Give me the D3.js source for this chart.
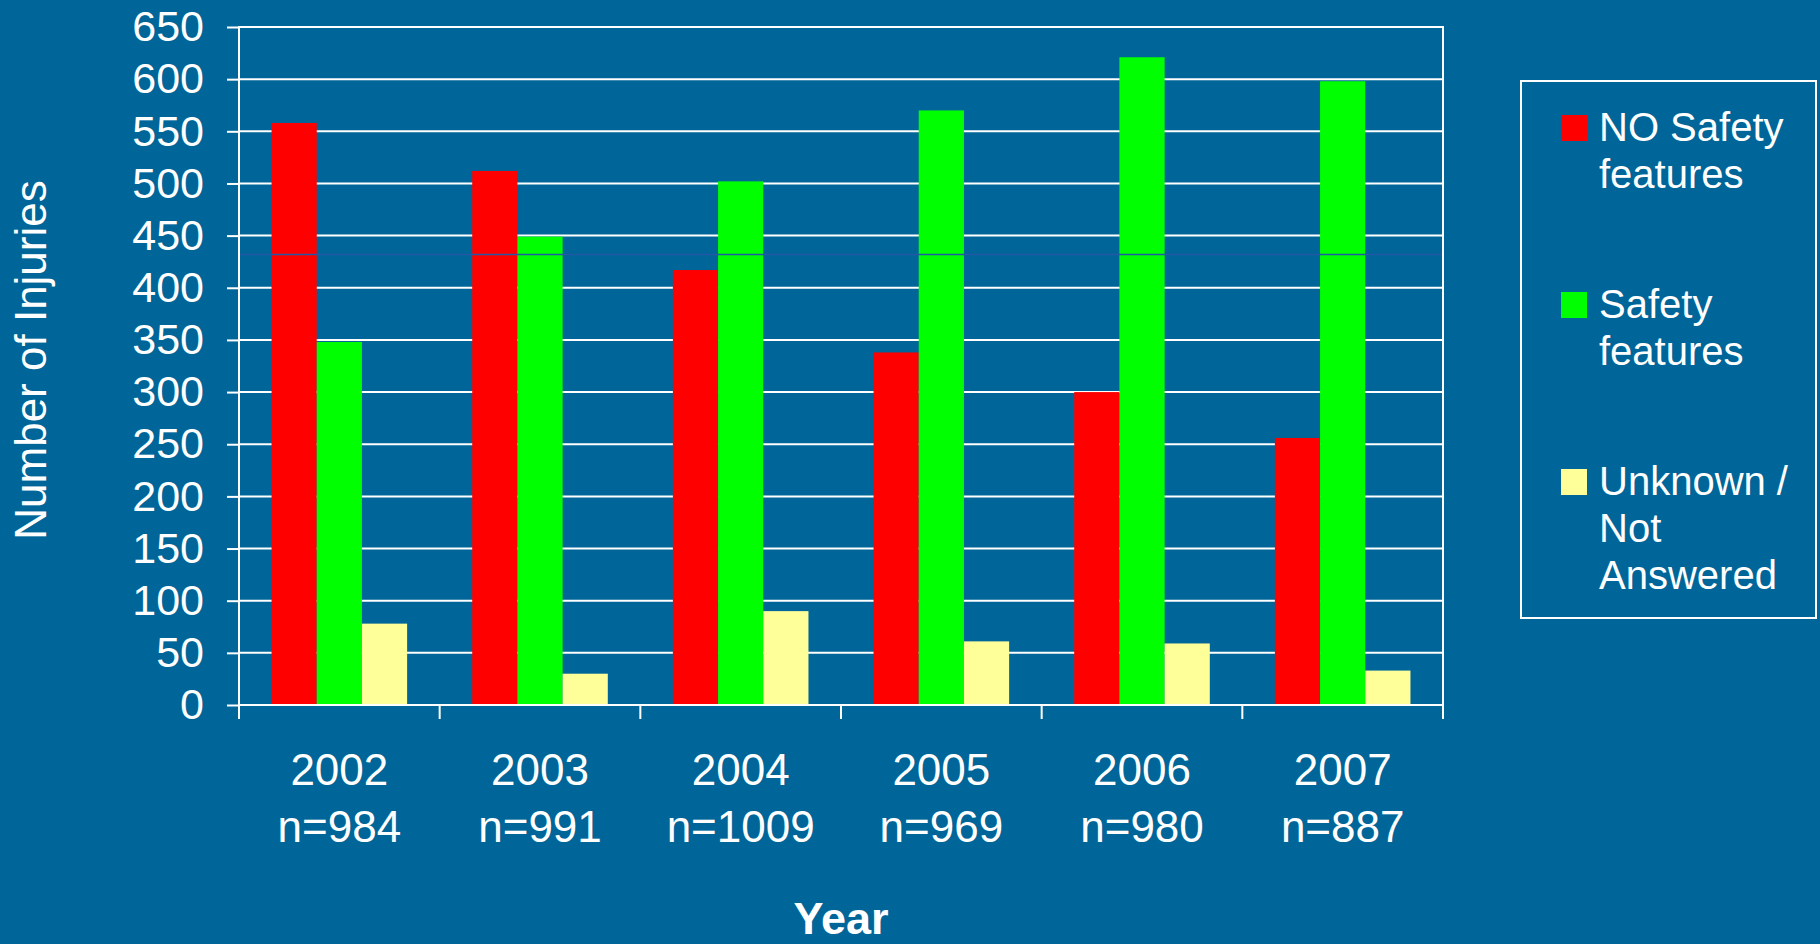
<!DOCTYPE html>
<html>
<head>
    <meta charset="utf-8">
    <title>Number of Injuries by Year</title>
    <script src="https://d3js.org/d3.v7.min.js" charset="utf-8"></script>
    <style type="text/css">
        body {
            margin: 0;
            background: #006699;
        }

        svg text {
            font-family: "Liberation Sans", Arial, sans-serif;
            fill: #fff;
        }

        .axis path {
            display: none;
        }

        .axis line,
        .grid line {
            stroke: #fff;
            stroke-width: 2px;
        }
    </style>
</head>

<body>
<script type="text/javascript">
    // data
    var years = ["2002", "2003", "2004", "2005", "2006", "2007"];
    var sampleSizes = ["n=984", "n=991", "n=1009", "n=969", "n=980", "n=887"];
    var seriesNames = ["NO Safety features", "Safety features", "Unknown / Not Answered"];
    var noSafety = [558, 512, 417, 338, 300, 256];
    var safety = [348, 449, 502, 570, 621, 598];
    var unknown = [78, 30, 90, 61, 59, 33];
    var yTicks = [0, 50, 100, 150, 200, 250, 300, 350, 400, 450, 500, 550, 600, 650];

    var colors = ["#ff0000", "#00ff00", "#ffff99"];
    var legendLines = [["NO Safety", "features"], ["Safety", "features"], ["Unknown /", "Not", "Answered"]];

    var rows = years.map(function (yr, i) {
        return { year: yr, n: sampleSizes[i], values: [noSafety[i], safety[i], unknown[i]] };
    });

    var W = 1820, H = 944;
    var margin = { top: 27, right: 377, bottom: 239, left: 239 },
        width = W - margin.left - margin.right,
        height = H - margin.top - margin.bottom;

    var svg = d3.select("body").append("svg")
        .attr("width", W)
        .attr("height", H);

    svg.append("rect")
        .attr("width", W)
        .attr("height", H)
        .attr("fill", "#006699");

    var g = svg.append("g")
        .attr("transform", "translate(" + margin.left + "," + margin.top + ")");

    var x0 = d3.scaleBand()
        .domain(years)
        .range([0, width])
        .padding(0);

    var x1 = d3.scaleBand()
        .domain(d3.range(seriesNames.length))
        .range([0, x0.bandwidth()])
        .paddingInner(0)
        .paddingOuter(0.72);

    var y = d3.scaleLinear()
        .domain([0, 650])
        .range([height, 0]);

    // gridlines
    g.append("g")
        .attr("class", "grid")
        .selectAll("line")
        .data(yTicks)
        .enter().append("line")
        .attr("x1", 0)
        .attr("x2", width)
        .attr("y1", function (d) { return y(d); })
        .attr("y2", function (d) { return y(d); });

    // bars
    var groups = g.selectAll(".year")
        .data(rows)
        .enter().append("g")
        .attr("class", "year")
        .attr("transform", function (d) { return "translate(" + x0(d.year) + ",0)"; });

    groups.selectAll("rect")
        .data(function (d) { return d.values; })
        .enter().append("rect")
        .attr("x", function (d, i) { return x1(i); })
        .attr("width", x1.bandwidth())
        .attr("y", function (d) { return y(d); })
        .attr("height", function (d) { return height - y(d); })
        .attr("fill", function (d, i) { return colors[i]; });

    // faint seam line across the bars seen in the source image
    g.append("line")
        .attr("x1", 0)
        .attr("x2", width)
        .attr("y1", y(432))
        .attr("y2", y(432))
        .attr("stroke", "#2358a6")
        .attr("stroke-width", 1.5);

    // plot border
    g.append("rect")
        .attr("width", width)
        .attr("height", height)
        .attr("fill", "none")
        .attr("stroke", "#fff")
        .attr("stroke-width", 2);

    // y axis
    var yAxis = d3.axisLeft(y)
        .tickValues(yTicks)
        .tickSize(12)
        .tickPadding(23);

    g.append("g")
        .attr("class", "y axis")
        .call(yAxis)
        .selectAll("text")
        .style("font-size", "43px")
        .attr("fill", "#fff");

    // x axis: ticks sit on the band edges
    var edges = years.map(function (d) { return x0(d); }).concat([width]);
    g.append("g")
        .attr("class", "x axis")
        .selectAll("line")
        .data(edges)
        .enter().append("line")
        .attr("x1", function (d) { return d; })
        .attr("x2", function (d) { return d; })
        .attr("y1", height)
        .attr("y2", height + 14);

    var xLabels = g.append("g")
        .selectAll("text")
        .data(rows)
        .enter().append("text")
        .attr("text-anchor", "middle")
        .style("font-size", "44px")
        .attr("transform", function (d) {
            return "translate(" + (x0(d.year) + x0.bandwidth() / 2) + "," + (height + 80) + ")";
        });

    xLabels.append("tspan")
        .attr("x", 0)
        .attr("y", 0)
        .text(function (d) { return d.year; });

    xLabels.append("tspan")
        .attr("x", 0)
        .attr("y", 57)
        .text(function (d) { return d.n; });

    // axis titles
    svg.append("text")
        .attr("text-anchor", "middle")
        .attr("transform", "translate(46,360) rotate(-90)")
        .style("font-size", "44px")
        .text("Number of Injuries");

    svg.append("text")
        .attr("text-anchor", "middle")
        .attr("x", margin.left + width / 2)
        .attr("y", 934)
        .style("font-size", "45px")
        .style("font-weight", "bold")
        .text("Year");

    // legend
    var legend = svg.append("g")
        .attr("transform", "translate(1521,81)");

    legend.append("rect")
        .attr("width", 295)
        .attr("height", 537)
        .attr("fill", "none")
        .attr("stroke", "#fff")
        .attr("stroke-width", 2);

    var items = legend.selectAll(".item")
        .data(seriesNames)
        .enter().append("g")
        .attr("class", "item")
        .attr("transform", function (d, i) { return "translate(40," + (34 + i * 177) + ")"; });

    items.append("rect")
        .attr("width", 26)
        .attr("height", 26)
        .attr("fill", function (d, i) { return colors[i]; });

    items.append("text")
        .style("font-size", "40px")
        .each(function (d, i) {
            var t = d3.select(this);
            legendLines[i].forEach(function (line, j) {
                t.append("tspan")
                    .attr("x", 38)
                    .attr("y", 26 + j * 47)
                    .text(line);
            });
        });
</script>
</body>
</html>
